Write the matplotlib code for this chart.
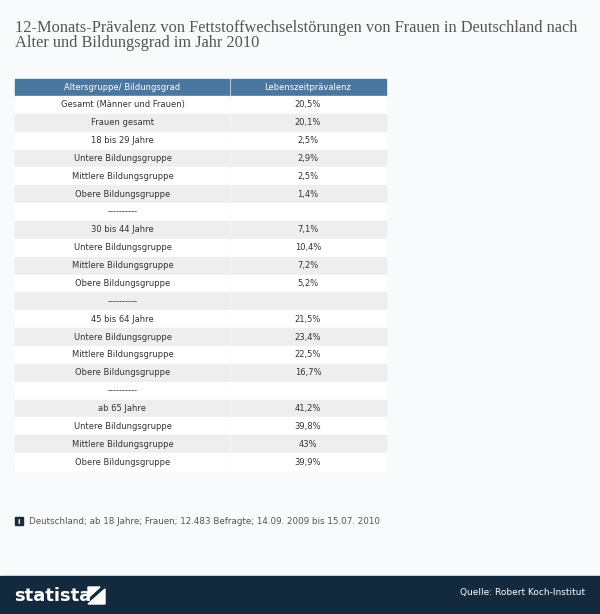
import matplotlib
matplotlib.use("Agg")
import matplotlib.pyplot as plt
from matplotlib.patches import Rectangle, Polygon

title = "12-Monats-Prävalenz von Fettstoffwechselstörungen von Frauen in Deutschland nach\nAlter und Bildungsgrad im Jahr 2010"
headers = ["Altersgruppe/ Bildungsgrad", "Lebenszeitprävalenz"]
categories = ["Gesamt (Männer und Frauen)", "Frauen gesamt", "18 bis 29 Jahre",
              "Untere Bildungsgruppe", "Mittlere Bildungsgruppe", "Obere Bildungsgruppe",
              "----------", "30 bis 44 Jahre", "Untere Bildungsgruppe", "Mittlere Bildungsgruppe",
              "Obere Bildungsgruppe", "----------", "45 bis 64 Jahre", "Untere Bildungsgruppe",
              "Mittlere Bildungsgruppe", "Obere Bildungsgruppe", "----------", "ab 65 Jahre",
              "Untere Bildungsgruppe", "Mittlere Bildungsgruppe", "Obere Bildungsgruppe"]
values = ["20,5%", "20,1%", "2,5%", "2,9%", "2,5%", "1,4%", "", "7,1%", "10,4%", "7,2%",
          "5,2%", "", "21,5%", "23,4%", "22,5%", "16,7%", "", "41,2%", "39,8%", "43%", "39,9%"]
note = "Deutschland; ab 18 Jahre; Frauen; 12.483 Befragte; 14.09. 2009 bis 15.07. 2010"
source = "Quelle: Robert Koch-Institut"

fig = plt.figure(figsize=(6, 6.14), dpi=100)
fig.patch.set_facecolor("#f9fafb")
ax = fig.add_axes([0, 0, 1, 1])
ax.set_xlim(0, 600); ax.set_ylim(614, 0); ax.axis("off")

ax.text(15, 20, title, fontsize=11.8, family="Liberation Serif", color="#555555", va="top", linespacing=0.92)

x0, xm, x1 = 15, 230, 386
hy, hh = 79, 17
rh = (471 - 96) / len(categories)
hc = "#4a77a0"
ax.add_patch(Rectangle((x0, hy), xm - x0 - 1, hh, color=hc))
ax.add_patch(Rectangle((xm + 1, hy), x1 - xm - 1, hh, color=hc))
fs = 6.0
ax.text((x0 + xm) / 2, hy + hh / 2, headers[0], color="white", fontsize=fs, ha="center", va="center")
ax.text((xm + x1) / 2, hy + hh / 2, headers[1], color="white", fontsize=fs, ha="center", va="center")
for i, (c, v) in enumerate(zip(categories, values)):
    y = 96 + i * rh
    col = "white" if i % 2 == 0 else "#eeeeee"
    ax.add_patch(Rectangle((x0, y), xm - x0 - 1, rh, color=col))
    ax.add_patch(Rectangle((xm + 1, y), x1 - xm - 1, rh, color=col))
    ax.text((x0 + xm) / 2, y + rh / 2, c, fontsize=fs, ha="center", va="center", color="#333333")
    ax.text((xm + x1) / 2, y + rh / 2, v, fontsize=fs, ha="center", va="center", color="#333333")

ax.add_patch(Rectangle((15, 517), 8, 8, color="#1b2b3e"))
ax.text(19, 521.5, "i", color="white", fontsize=5, ha="center", va="center", weight="bold")
ax.text(29, 522, note, fontsize=6.3, color="#555555", va="center")

ax.add_patch(Rectangle((0, 576), 600, 38, color="#132a3e"))
ax.text(14, 596, "statista", color="white", fontsize=13, weight="bold", va="center", family="DejaVu Sans")
ax.add_patch(Polygon([(88, 604), (105, 589), (105, 604)], color="white"))
ax.add_patch(Polygon([(88, 587), (100, 587), (88, 598)], color="white"))
ax.text(585, 593, source, color="white", fontsize=6.5, ha="right", va="center")

fig.savefig("out.png", dpi=100, facecolor=fig.get_facecolor())
